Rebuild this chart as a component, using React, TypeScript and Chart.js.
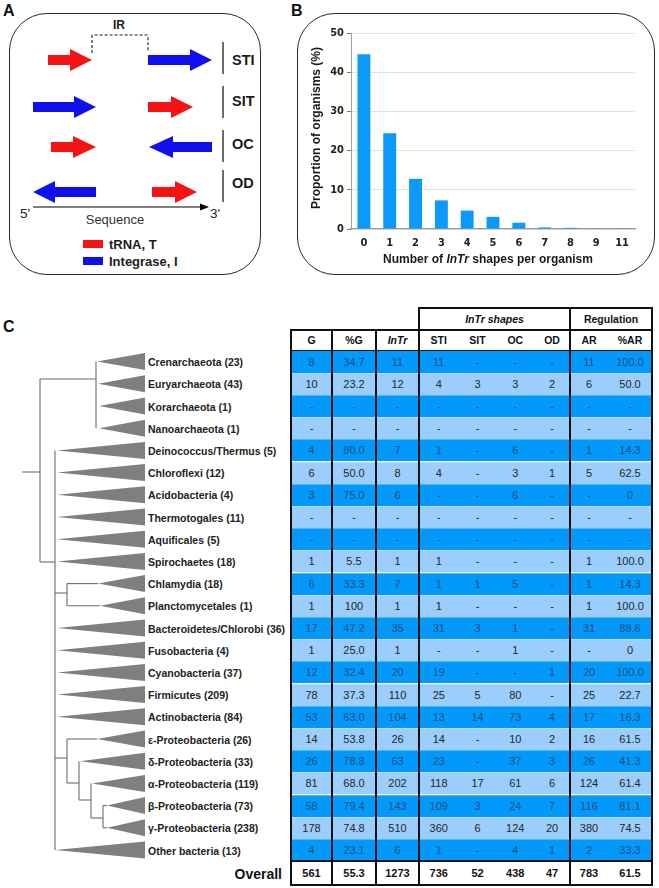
import React, { useEffect, useRef } from "react";
import { Chart, registerables } from "chart.js";

Chart.register(...registerables);

// ---------- Panel B data ----------
const shapeCounts = ["0", "1", "2", "3", "4", "5", "6", "7", "8", "9", "11"];
const organismPercent = [44.6, 24.4, 12.8, 7.3, 4.7, 3.1, 1.6, 0.4, 0.3, 0.1, 0.2];
const yAxisMin = 0;
const yAxisMax = 50;
const yAxisStep = 10;

// ---------- Panel C data ----------
const taxa = [
  "Crenarchaeota (23)", "Euryarchaeota (43)", "Korarchaeota (1)", "Nanoarchaeota (1)",
  "Deinococcus/Thermus (5)", "Chloroflexi (12)", "Acidobacteria (4)", "Thermotogales (11)",
  "Aquificales (5)", "Spirochaetes (18)", "Chlamydia (18)", "Planctomycetales (1)",
  "Bacteroidetes/Chlorobi (36)", "Fusobacteria (4)", "Cyanobacteria (37)", "Firmicutes (209)",
  "Actinobacteria (84)", "ε-Proteobacteria (26)", "δ-Proteobacteria (33)", "α-Proteobacteria (119)",
  "β-Proteobacteria (73)", "γ-Proteobacteria (238)", "Other bacteria (13)",
];
const colG = ["8", "10", "-", "-", "4", "6", "3", "-", "-", "1", "6", "1", "17", "1", "12", "78", "53", "14", "26", "81", "58", "178", "4"];
const colPctG = ["34.7", "23.2", "-", "-", "80.0", "50.0", "75.0", "-", "-", "5.5", "33.3", "100", "47.2", "25.0", "32.4", "37.3", "63.0", "53.8", "78.8", "68.0", "79.4", "74.8", "23.1"];
const colInTr = ["11", "12", "-", "-", "7", "8", "6", "-", "-", "1", "7", "1", "35", "1", "20", "110", "104", "26", "63", "202", "143", "510", "6"];
const colSTI = ["11", "4", "-", "-", "1", "4", "-", "-", "-", "1", "1", "1", "31", "-", "19", "25", "13", "14", "23", "118", "109", "360", "1"];
const colSIT = ["-", "3", "-", "-", "-", "-", "-", "-", "-", "-", "1", "-", "3", "-", "-", "5", "14", "-", "-", "17", "3", "6", "-"];
const colOC = ["-", "3", "-", "-", "6", "3", "6", "-", "-", "-", "5", "-", "1", "1", "-", "80", "73", "10", "37", "61", "24", "124", "4"];
const colOD = ["-", "2", "-", "-", "-", "1", "-", "-", "-", "-", "-", "-", "-", "-", "1", "-", "4", "2", "3", "6", "7", "20", "1"];
const colAR = ["11", "6", "-", "-", "1", "5", "-", "-", "-", "1", "1", "1", "31", "-", "20", "25", "17", "16", "26", "124", "116", "380", "2"];
const colPctAR = ["100.0", "50.0", "-", "-", "14.3", "62.5", "0", "-", "-", "100.0", "14.3", "100.0", "88.6", "0", "100.0", "22.7", "16.3", "61.5", "41.3", "61.4", "81.1", "74.5", "33.3"];
const overallRow = ["561", "55.3", "1273", "736", "52", "438", "47", "783", "61.5"];
const columnHeaders = ["G", "%G", "InTr", "STI", "SIT", "OC", "OD", "AR", "%AR"];

// ---------- styles / layout ----------
const SANS = "'Liberation Sans', Arial, Helvetica, sans-serif";
const NARROW = "'Liberation Sans Narrow', 'Arial Narrow', 'DejaVu Sans Condensed', sans-serif";
const BAR = "#0d99f7";
const RED = "#f41212";
const BLUE = "#1010ee";
const ROW_DARK = "#0399fb";
const ROW_LIGHT = "#9bcdfd";
const INK = "#1c1c1c";

const colEdges = [291, 332, 376, 419, 458.5, 496.5, 534, 570, 608, 652];
const heavyEdges = [291, 332, 376, 419, 570, 652];
const rowTop = 350.5;
const rowH = 22.2;
const rc = (i: number) => rowTop + rowH * (i + 0.5);

function BarChart() {
  const ref = useRef<HTMLCanvasElement>(null);
  useEffect(() => {
    const chart = new Chart(ref.current!, {
      type: "bar",
      data: {
        labels: shapeCounts,
        datasets: [
          {
            data: organismPercent,
            backgroundColor: BAR,
            borderWidth: 0,
            barPercentage: 0.5,
            categoryPercentage: 1,
          },
        ],
      },
      options: {
        animation: false,
        responsive: false,
        maintainAspectRatio: false,
        events: [],
        layout: { padding: { left: 0, right: 15, top: 13, bottom: 0 } },
        plugins: { legend: { display: false }, tooltip: { enabled: false } },
        scales: {
          x: {
            grid: { display: false, drawTicks: false },
            border: { display: true, color: "#9a9a9a", width: 1.2 },
            ticks: {
              color: "#222",
              font: { family: NARROW, size: 11, weight: "bold" },
              padding: 8,
              maxRotation: 0,
              autoSkip: false,
            },
            afterFit: (s: any) => {
              s.height = 31;
            },
          },
          y: {
            min: yAxisMin,
            max: yAxisMax,
            ticks: {
              stepSize: yAxisStep,
              color: "#222",
              font: { family: NARROW, size: 11, weight: "bold" },
              padding: 3,
            },
            grid: { color: "#e2e2e2", tickLength: 4, tickColor: "#777", lineWidth: 1 },
            border: { display: true, color: "#a0a0a0", width: 1 },
            afterFit: (s: any) => {
              s.width = 31;
            },
          },
        },
      } as any,
    });
    return () => chart.destroy();
  }, []);
  return (
    <canvas
      ref={ref}
      width={330}
      height={240}
      style={{ position: "absolute", left: 320, top: 20, width: 330, height: 240 }}
    />
  );
}

function arrowPts(tail: number, tip: number, head: number, y: number) {
  const b = 5;
  const h = 11;
  return [
    [tail, y - b], [head, y - b], [head, y - h], [tip, y], [head, y + h], [head, y + b], [tail, y + b],
  ]
    .map((p) => p.join(","))
    .join(" ");
}

function PanelA() {
  const rows = [
    { y: 60, label: "STI", ly: 60, bar: [42, 74], arrows: [[48, 92, 70, RED], [148, 212, 190, BLUE]] },
    { y: 107, label: "SIT", ly: 101, bar: [86, 118], arrows: [[33, 96, 74, BLUE], [148, 193, 171, RED]] },
    { y: 147, label: "OC", ly: 144, bar: [130, 162], arrows: [[51, 96, 73, RED], [212, 149, 173, BLUE]] },
    { y: 192, label: "OD", ly: 183, bar: [170, 202], arrows: [[96, 33, 55, BLUE], [152, 197, 175, RED]] },
  ];
  return (
    <svg width={270} height={290} style={{ position: "absolute", left: 0, top: 0 }}>
      {rows.map((r) => (
        <g key={r.label}>
          {r.arrows.map((a, k) => (
            <polygon key={k} points={arrowPts(a[0] as number, a[1] as number, a[2] as number, r.y)} fill={a[3] as string} />
          ))}
          <line x1={223} x2={223} y1={r.bar[0]} y2={r.bar[1]} stroke={INK} strokeWidth={1.3} />
          <text x={232} y={r.ly} dominantBaseline="central" fontFamily={SANS} fontWeight="bold" fontSize={14.5} fill={INK}>
            {r.label}
          </text>
        </g>
      ))}
      <path d="M92,53 V36 Q92,35 93,35 H147 Q148,35 148,36 V51" fill="none" stroke={INK} strokeWidth={1.1} strokeDasharray="3 2" />
      <text x={119} y={25} textAnchor="middle" dominantBaseline="central" fontFamily={SANS} fontWeight="bold" fontSize={12} fill={INK}>
        IR
      </text>
      <line x1={33} x2={202} y1={207} y2={207} stroke="#000" strokeWidth={1.2} />
      <polygon points="200,203.5 209,207 200,210.5" fill="#000" />
      <text x={20} y={213} dominantBaseline="central" fontFamily={SANS} fontSize={13.5} fill="#222">5'</text>
      <text x={210} y={213} dominantBaseline="central" fontFamily={SANS} fontSize={13.5} fill="#222">3'</text>
      <text x={115} y={219} textAnchor="middle" dominantBaseline="central" fontFamily={SANS} fontSize={13} fill="#333">
        Sequence
      </text>
      <rect x={83} y={240} width={20} height={8} fill={RED} />
      <text x={109} y={244.5} dominantBaseline="central" fontFamily={SANS} fontWeight="bold" fontSize={13} fill={INK}>
        tRNA, T
      </text>
      <rect x={83} y={257} width={20} height={8} fill={BLUE} />
      <text x={109} y={261} dominantBaseline="central" fontFamily={SANS} fontWeight="bold" fontSize={13} fill={INK}>
        Integrase, I
      </text>
    </svg>
  );
}

const triApex = [97, 98, 99, 99, 57, 57, 57, 57, 57, 57, 98, 100, 57, 57, 57, 57, 57, 97, 80, 92, 107, 107, 55];

function Tree() {
  const L = (x1: number, y1: number, x2: number, y2: number, k: string) => (
    <line key={k} x1={x1} y1={y1} x2={x2} y2={y2} stroke="#6c6c6c" strokeWidth={1.1} />
  );
  const lines = [
    L(22, 472, 40, 472, "a"),
    L(40, 379, 40, 562, "b"),
    L(40, 379, 96, 379, "c"),
    L(96, rc(0), 96, rc(3), "d"),
    L(40, 562, 55, 562, "e"),
    L(55, rc(4), 55, rc(22), "f"),
    L(55, 593, 67, 593, "g"),
    L(67, rc(10), 67, rc(11), "h"),
    L(67, rc(10), 98, rc(10), "i"),
    L(67, rc(11), 100, rc(11), "j"),
    L(55, 758, 67, 758, "k"),
    L(67, rc(17), 67, 783, "l"),
    L(67, rc(17), 97, rc(17), "m"),
    L(67, 783, 79, 783, "n"),
    L(79, rc(18), 79, 800, "o"),
    L(79, 800, 91, 800, "p"),
    L(91, rc(19), 91, 818, "q"),
    L(91, 818, 103, 818, "r"),
    L(103, rc(20), 103, rc(21), "s"),
    L(103, rc(20), 107, rc(20), "t"),
    L(103, rc(21), 107, rc(21), "u"),
  ];
  return (
    <svg width={290} height={888} style={{ position: "absolute", left: 0, top: 0 }}>
      {lines}
      {taxa.map((t, i) => {
        const y = rc(i);
        return (
          <g key={t}>
            <polygon points={`${triApex[i]},${y} 145,${y - 8.5} 145,${y + 8.5}`} fill="#7f7f7f" />
            <text x={148} y={y + 0.5} dominantBaseline="central" fontFamily={SANS} fontWeight="bold" fontSize={10.5} fill="#222">
              {t}
            </text>
          </g>
        );
      })}
    </svg>
  );
}

function Table() {
  const cols = [colG, colPctG, colInTr, colSTI, colSIT, colOC, colOD, colAR, colPctAR];
  const cells: React.ReactNode[] = [];
  const abs = (l: number, t: number, w: number, h: number): React.CSSProperties => ({
    position: "absolute",
    left: l,
    top: t,
    width: w,
    height: h,
  });
  cells.push(<div key="hbg" style={{ ...abs(291, 330, 361, 20.5), background: "#fff" }} />);
  columnHeaders.forEach((h, c) => {
    cells.push(
      <div
        key={"h" + c}
        style={{
          ...abs(colEdges[c], 330, colEdges[c + 1] - colEdges[c], 20.5),
          display: "flex",
          alignItems: "center",
          justifyContent: "center",
          fontWeight: "bold",
          fontStyle: h === "InTr" ? "italic" : "normal",
          fontSize: 10.5,
          color: "#111",
        }}
      >
        {h}
      </div>
    );
  });
  cells.push(
    <div
      key="sh1"
      style={{ ...abs(419, 308, 151, 22), display: "flex", alignItems: "center", justifyContent: "center", fontWeight: "bold", fontStyle: "italic", fontSize: 10.5, color: "#111" }}
    >
      InTr shapes
    </div>
  );
  cells.push(
    <div
      key="sh2"
      style={{ ...abs(570, 308, 82, 22), display: "flex", alignItems: "center", justifyContent: "center", fontWeight: "bold", fontSize: 10.5, color: "#111" }}
    >
      Regulation
    </div>
  );
  taxa.forEach((_, i) => {
    const dark = i % 2 === 0;
    const top = rowTop + i * rowH;
    cells.push(
      <div
        key={"rb" + i}
        style={{
          ...abs(291, top, 361, rowH),
          background: dark ? ROW_DARK : ROW_LIGHT,
          boxSizing: "border-box",
          borderTop: i > 0 ? "1px solid rgba(255,255,255,0.3)" : "none",
        }}
      />
    );
    cols.forEach((col, c) => {
      cells.push(
        <div
          key={`c${i}-${c}`}
          style={{
            ...abs(colEdges[c], top, colEdges[c + 1] - colEdges[c], rowH),
            display: "flex",
            alignItems: "center",
            justifyContent: "center",
            fontSize: 11,
            color: dark ? "#1f4d7e" : "#262626",
          }}
        >
          {col[i]}
        </div>
      );
    });
  });
  const ovTop = rowTop + taxa.length * rowH;
  const ovH = 885 - ovTop;
  cells.push(<div key="ovbg" style={{ ...abs(291, ovTop, 361, ovH), background: "#fff" }} />);
  overallRow.forEach((v, c) => {
    cells.push(
      <div
        key={"ov" + c}
        style={{
          ...abs(colEdges[c], ovTop, colEdges[c + 1] - colEdges[c], ovH),
          display: "flex",
          alignItems: "center",
          justifyContent: "center",
          fontSize: 11,
          fontWeight: "bold",
          color: "#111",
        }}
      >
        {v}
      </div>
    );
  });
  const LW = 1.4;
  heavyEdges.forEach((x, k) => {
    const top = x >= 419 ? 308 : 330;
    cells.push(<div key={"v" + k} style={{ ...abs(x - LW / 2, top, LW, 885 - top + LW / 2), background: "#111" }} />);
  });
  const hLine = (y: number, x1: number, x2: number, k: string) =>
    cells.push(<div key={k} style={{ ...abs(x1 - LW / 2, y - LW / 2, x2 - x1 + LW, LW), background: "#111" }} />);
  hLine(308, 419, 652, "hl0");
  hLine(330, 291, 652, "hl1");
  hLine(350.5, 291, 652, "hl2");
  hLine(ovTop, 291, 652, "hl3");
  hLine(885, 291, 652, "hl4");
  cells.push(
    <div
      key="overall"
      style={{ position: "absolute", right: 659 - 282, top: 874, transform: "translateY(-50%)", fontWeight: "bold", fontSize: 14, color: "#111" }}
    >
      Overall
    </div>
  );
  return <>{cells}</>;
}

export default function App() {
  const box = (l: number, t: number, r: number, b: number): React.CSSProperties => ({
    position: "absolute",
    left: l,
    top: t,
    width: r - l,
    height: b - t,
    border: "1.3px solid #2a2a2a",
    borderRadius: 38,
    boxSizing: "border-box",
  });
  const panelLabel = (x: number, y: number, s: string) => (
    <div style={{ position: "absolute", left: x, top: y, fontWeight: "bold", fontSize: 16, lineHeight: "16px", color: "#111" }}>{s}</div>
  );
  return (
    <div
      style={{
        position: "absolute",
        left: 0,
        top: 0,
        width: 659,
        height: 888,
        background: "#fff",
        fontFamily: SANS,
        overflow: "hidden",
      }}
    >
      <div style={box(9, 13, 261, 275)} />
      <div style={box(297, 13, 655, 275)} />
      {panelLabel(3, 3, "A")}
      {panelLabel(291, 3, "B")}
      {panelLabel(3, 319, "C")}
      <PanelA />
      <BarChart />
      <div
        style={{
          position: "absolute",
          left: 316,
          top: 128,
          transform: "translate(-50%, -50%) rotate(-90deg)",
          whiteSpace: "nowrap",
          fontWeight: "bold",
          fontSize: 12,
          color: "#1a1a1a",
        }}
      >
        Proportion of organisms (%)
      </div>
      <div
        style={{
          position: "absolute",
          left: 488,
          top: 259,
          transform: "translate(-50%, -50%)",
          whiteSpace: "nowrap",
          fontWeight: "bold",
          fontSize: 12,
          color: "#1a1a1a",
        }}
      >
        Number of <i>InTr</i> shapes per organism
      </div>
      <Tree />
      <Table />
    </div>
  );
}
